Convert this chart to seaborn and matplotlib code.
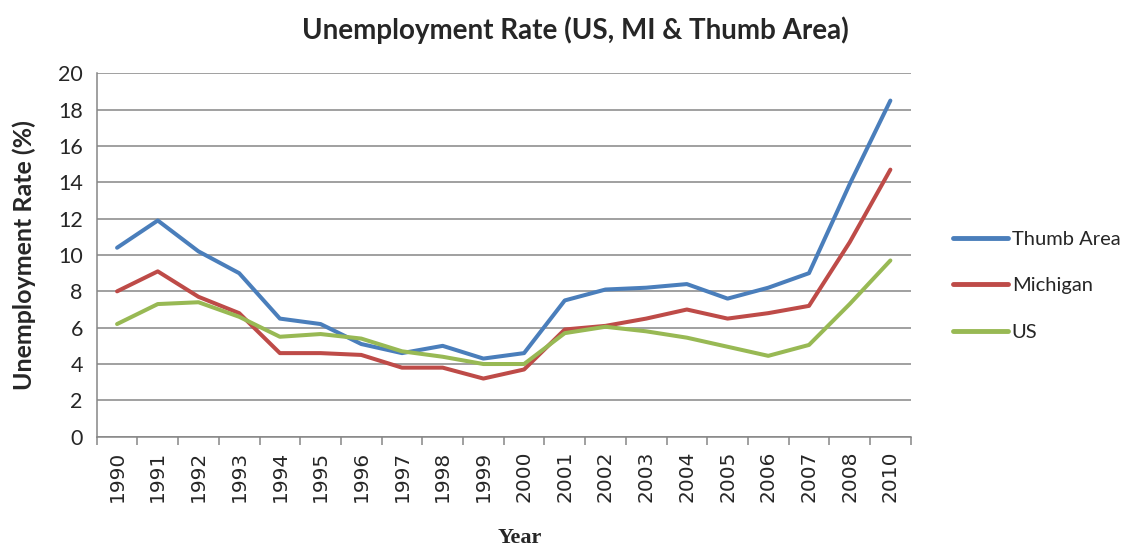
import matplotlib
matplotlib.use("Agg")
import matplotlib.pyplot as plt
import seaborn as sns
import pandas as pd
import numpy as np

years = ["1990", "1991", "1992", "1993", "1994", "1995", "1996", "1997", "1998", "1999",
         "2000", "2001", "2002", "2003", "2004", "2005", "2006", "2007", "2008", "2010"]
thumb = [10.4, 11.9, 10.2, 9.0, 6.5, 6.2, 5.1, 4.6, 5.0, 4.3,
         4.6, 7.5, 8.1, 8.2, 8.4, 7.6, 8.2, 9.0, 13.9, 18.5]
michigan = [8.0, 9.1, 7.7, 6.8, 4.6, 4.6, 4.5, 3.8, 3.8, 3.2,
            3.7, 5.9, 6.1, 6.5, 7.0, 6.5, 6.8, 7.2, 10.7, 14.7]
us = [6.2, 7.3, 7.4, 6.6, 5.5, 5.65, 5.4, 4.7, 4.4, 4.0,
      4.0, 5.7, 6.05, 5.8, 5.45, 4.95, 4.45, 5.05, 7.3, 9.7]
series_names = ["Thumb Area", "Michigan", "US"]
colors = ["#4A7EBB", "#BE4B48", "#98B954"]

df = pd.DataFrame({"Year": years, "Thumb Area": thumb, "Michigan": michigan, "US": us})
long = df.melt(id_vars="Year", var_name="Series", value_name="Rate")

sns.set_style("white")
plt.rcParams['font.family'] = ['Lato', 'DejaVu Sans']

fig = plt.figure(figsize=(11.46, 5.46), dpi=100)
ax = fig.add_axes([0.0844, 0.2002, 0.7103, 0.6655])

sns.lineplot(data=long, x="Year", y="Rate", hue="Series", hue_order=series_names,
             palette=colors, linewidth=2.9, sort=False, ax=ax)

ax.set_xlim(-0.5, len(years) - 0.5)
ax.set_ylim(0, 20)
ax.set_yticks(np.arange(0, 21, 2))
ax.yaxis.grid(True, color="#868686", linewidth=1.1)
ax.set_axisbelow(True)
for s in ["top", "right"]:
    ax.spines[s].set_visible(False)
for s in ["left", "bottom"]:
    ax.spines[s].set_color("#868686")
    ax.spines[s].set_linewidth(1.1)

ax.set_xticks(range(len(years)))
ax.set_xticklabels(years, rotation=90, fontsize=14.5, family="DejaVu Sans")
ax.set_xticks(np.arange(-0.5, len(years), 1.0), minor=True)
ax.tick_params(axis="x", which="major", length=0, pad=10)
ax.tick_params(axis="x", which="minor", length=6, color="#868686", width=1.1, direction="out", bottom=True)
ax.tick_params(axis="y", which="major", length=0, labelsize=15.5, pad=10)

ax.set_xlabel("Year", fontsize=16, fontweight="bold", family="Liberation Serif")
ax.xaxis.set_label_coords(0.52, -0.25)
ax.set_ylabel("Unemployment Rate (%)", fontsize=18, fontweight="bold", labelpad=16)

fig.suptitle("Unemployment Rate (US, MI & Thumb Area)", x=0.502, y=0.97,
             fontsize=20, fontweight="bold")

leg = ax.legend(title=None, loc="center left", bbox_to_anchor=(1.03, 0.415), frameon=False,
                fontsize=14.5, handlelength=2.7, handletextpad=0.2, labelspacing=1.45)
for line in leg.get_lines():
    line.set_linewidth(3.5)

fig.savefig("out.png", dpi=100)
